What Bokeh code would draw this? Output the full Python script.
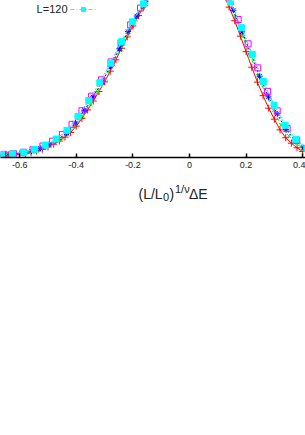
from bokeh.plotting import figure
from bokeh.layouts import column
from bokeh.models import Range1d, FixedTicker, Label, Legend, LegendItem
from bokeh.embed import file_html
from bokeh.resources import INLINE

# ---- data ----
tick_values = [-0.6, -0.4, -0.2, 0.0, 0.2, 0.4]
tick_labels = ["-0.6", "-0.4", "-0.2", "0", "0.2", "0.4"]

red_x = [-0.70, -0.68, -0.66, -0.64, -0.62, -0.60, -0.58, -0.56, -0.54, -0.52,
         -0.50, -0.48, -0.46, -0.44, -0.42, -0.40, -0.38, -0.36, -0.34, -0.32,
         -0.30, -0.28, -0.26, -0.24, -0.22, -0.20, -0.18, -0.16, -0.14, -0.12,
         -0.10, -0.08, -0.06, -0.04, -0.02, 0.00, 0.02, 0.04, 0.06, 0.08,
         0.10, 0.12, 0.14, 0.16, 0.18, 0.20, 0.22, 0.24, 0.26, 0.28,
         0.30, 0.32, 0.34, 0.36, 0.38, 0.40]
red_y = [0.011, 0.013, 0.014, 0.017, 0.020, 0.022, 0.026, 0.032, 0.041, 0.053,
         0.067, 0.085, 0.105, 0.130, 0.159, 0.200, 0.249, 0.303, 0.360, 0.420,
         0.482, 0.550, 0.622, 0.696, 0.768, 0.838, 0.904, 0.967, 1.026, 1.080,
         1.129, 1.176, 1.215, 1.247, 1.269, 1.280, 1.279, 1.268, 1.250, 1.201,
         1.128, 1.045, 0.958, 0.871, 0.773, 0.674, 0.575, 0.480, 0.394, 0.314,
         0.244, 0.176, 0.126, 0.091, 0.062, 0.038]

green_x = [-0.702, -0.675, -0.648, -0.621, -0.594, -0.567, -0.540, -0.513, -0.486, -0.459,
           -0.432, -0.405, -0.378, -0.351, -0.324, -0.297, -0.270, -0.243, -0.216, -0.189,
           -0.162, -0.135, -0.108, -0.081, -0.054, -0.027, 0.000, 0.027, 0.054, 0.081,
           0.108, 0.135, 0.162, 0.189, 0.216, 0.243, 0.270, 0.297, 0.324, 0.351,
           0.378, 0.405, 0.432]
green_y = [0.011, 0.014, 0.017, 0.020, 0.024, 0.031, 0.044, 0.061, 0.084, 0.112,
           0.147, 0.198, 0.263, 0.339, 0.417, 0.501, 0.595, 0.692, 0.788, 0.879,
           0.967, 1.045, 1.113, 1.176, 1.226, 1.262, 1.280, 1.276, 1.262, 1.208,
           1.118, 1.010, 0.896, 0.768, 0.643, 0.518, 0.401, 0.301, 0.207, 0.138,
           0.087, 0.054, 0.032]

blue_x = [-0.682, -0.651, -0.620, -0.589, -0.558, -0.527, -0.496, -0.465, -0.434, -0.403,
          -0.372, -0.341, -0.310, -0.279, -0.248, -0.217, -0.186, -0.155, -0.124, -0.093,
          -0.062, -0.031, 0.000, 0.031, 0.062, 0.093, 0.124, 0.155, 0.186, 0.217,
          0.248, 0.279, 0.310, 0.341, 0.372, 0.403, 0.434]
blue_y = [0.014, 0.018, 0.022, 0.028, 0.040, 0.058, 0.083, 0.115, 0.156, 0.220,
          0.301, 0.386, 0.479, 0.581, 0.692, 0.802, 0.901, 0.996, 1.080, 1.151,
          1.215, 1.258, 1.280, 1.274, 1.254, 1.175, 1.066, 0.938, 0.800, 0.660,
          0.518, 0.386, 0.278, 0.178, 0.110, 0.062, 0.035]

magenta_x = [-0.691, -0.656, -0.622, -0.587, -0.553, -0.518, -0.484, -0.449, -0.415, -0.380,
             -0.346, -0.311, -0.277, -0.242, -0.208, -0.173, -0.139, -0.104, -0.070, -0.035,
             0.000, 0.034, 0.069, 0.103, 0.138, 0.172, 0.207, 0.241, 0.276, 0.310,
             0.345, 0.379, 0.414]
magenta_y = [0.014, 0.020, 0.024, 0.033, 0.050, 0.073, 0.104, 0.147, 0.211, 0.298,
             0.391, 0.495, 0.609, 0.731, 0.845, 0.952, 1.048, 1.131, 1.203, 1.255,
             1.280, 1.273, 1.242, 1.150, 1.018, 0.879, 0.724, 0.571, 0.421, 0.297,
             0.185, 0.110, 0.058]

cyan_x = [-0.702, -0.664, -0.625, -0.587, -0.548, -0.510, -0.471, -0.433, -0.394, -0.356,
          -0.317, -0.279, -0.240, -0.202, -0.163, -0.125, -0.086, -0.048, -0.009, 0.030,
          0.068, 0.107, 0.145, 0.184, 0.222, 0.261, 0.299, 0.338, 0.376, 0.415]
cyan_y = [0.014, 0.018, 0.023, 0.033, 0.052, 0.079, 0.118, 0.173, 0.262, 0.363,
          0.476, 0.601, 0.738, 0.864, 0.981, 1.083, 1.172, 1.238, 1.277, 1.275,
          1.244, 1.135, 0.990, 0.827, 0.656, 0.484, 0.333, 0.205, 0.116, 0.056]

legend_label = "L=120"

# ---- main figure ----
FONT = "Liberation Sans"
p = figure(width=305, height=175, output_backend="svg", toolbar_location=None,
           x_range=Range1d(-0.6678, 0.4099), y_range=Range1d(0, 1),
           y_axis_location=None,
           min_border_left=0, min_border_right=0, min_border_top=0,
           min_border_bottom=18)
p.xgrid.visible = False
p.ygrid.visible = False
p.outline_line_color = None
p.background_fill_color = "white"
p.border_fill_color = "white"

ax = p.xaxis[0]
ax.ticker = FixedTicker(ticks=tick_values)
ax.major_label_overrides = {v: l for v, l in zip(tick_values, tick_labels)}
ax.minor_tick_line_color = None
ax.major_tick_in = 4
ax.major_tick_out = 0
ax.major_tick_line_width = 1.5
ax.major_tick_line_color = "black"
ax.axis_line_width = 1.5
ax.axis_line_color = "black"
ax.major_label_text_font = FONT
ax.major_label_text_font_size = "9px"
ax.major_label_text_color = "#222222"
ax.major_label_standoff = 4

series = [
    (red_x, red_y, "#ff0000", "solid", "cross", 7, True),
    (green_x, green_y, "#00ff00", "4 3", "x", 6, True),
    (blue_x, blue_y, "#0000ff", "2 2", "asterisk", 6, True),
    (magenta_x, magenta_y, "#ff00ff", "1 2", "square", 6, False),
    (cyan_x, cyan_y, "#00ffff", "4 2 1 2", "square", 6, True),
]
last = None
for xs, ys, col, dash, mk, sz, filled in series:
    ln = p.line(xs, ys, line_color=col, line_width=1, line_dash=dash)
    sc = p.scatter(xs, ys, marker=mk, size=sz, line_color=col, line_width=1,
                   fill_color=col if filled else None)
    last = (ln, sc)

legend = Legend(items=[LegendItem(label=" ", renderers=list(last))],
                location=(70, 143), glyph_width=26, glyph_height=10,
                label_height=10, label_width=1, label_standoff=0,
                padding=0, margin=0, spacing=0, border_line_color=None,
                background_fill_alpha=0, label_text_font_size="8px")
p.add_layout(legend)

p.add_layout(Label(x=67, y=149, x_units="screen", y_units="screen", text=legend_label,
                   text_align="right", text_baseline="middle",
                   text_font=FONT, text_font_size="11px", text_color="#222222"))

# ---- strip below holding the axis title (L/L0)^{1/nu} Delta E ----
t = figure(width=305, height=30, output_backend="svg", toolbar_location=None,
           x_range=Range1d(0, 1), y_range=Range1d(0, 1),
           x_axis_location=None, y_axis_location=None,
           min_border_left=0, min_border_right=0, min_border_top=0,
           min_border_bottom=0)
t.xgrid.visible = False
t.ygrid.visible = False
t.outline_line_color = None
t.background_fill_color = "white"
t.border_fill_color = "white"

parts = [
    ("(L/L", 138, 11.5, "14px"),
    ("0", 162.5, 8.5, "11px"),
    (")", 169, 11.5, "14px"),
    ("1/ν", 174.5, 16.5, "11px"),
    ("ΔE", 188.5, 11.5, "14px"),
]
for txt, x, y, fs in parts:
    t.add_layout(Label(x=x, y=y, x_units="screen", y_units="screen", text=txt,
                       text_align="left", text_baseline="alphabetic",
                       text_font=FONT, text_font_size=fs, text_color="#222222"))

layout = column(p, t, spacing=0)
open("out.html", "w").write(file_html(layout, INLINE))
